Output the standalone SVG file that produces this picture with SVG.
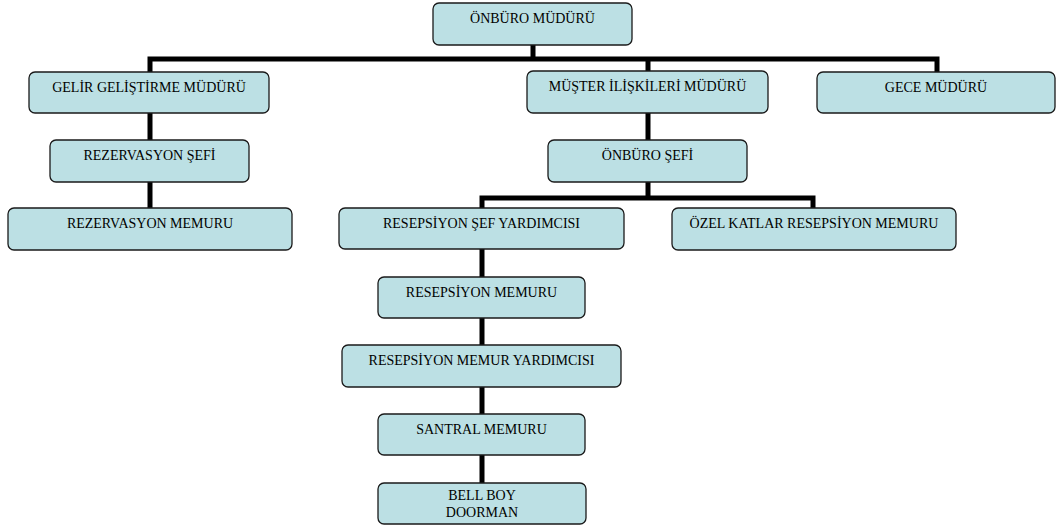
<svg xmlns="http://www.w3.org/2000/svg" width="1056" height="528" viewBox="0 0 1056 528">
<style>
.n rect{fill:#bce0e4;stroke:#1a1a1a;stroke-width:1.3}
.n text{font-size:14px;fill:#000;text-anchor:middle}
.c{stroke:#000;stroke-width:5;fill:none;stroke-linecap:butt}
</style>
<rect width="1056" height="528" fill="#fff"/>
<g id="connectors">
<path class="c" d="M533 45V59M147.5 59H939.5M150 59V72M648 59V71M937 59V72"/>
<path class="c" d="M150 113V140M150 182V208"/>
<path class="c" d="M648 113V140M648 182V198M479.5 198H815.5M482 198V208M813 198V208"/>
<path class="c" d="M482 249V277M482 318V345M482 387V414M482 455V483"/>
</g>
<g font-family="Liberation Serif, serif">
<g id="onburo-muduru" class="n"><rect x="433" y="3" width="199" height="42" rx="6"/><text x="532.5" y="23">ÖNBÜRO MÜDÜRÜ</text></g>
<g id="gelir-gelistirme" class="n"><rect x="29" y="72" width="240" height="41" rx="6"/><text x="149" y="92">GELİR GELİŞTİRME MÜDÜRÜ</text></g>
<g id="musteri-iliskileri" class="n"><rect x="527" y="71" width="241" height="42" rx="6"/><text x="647.5" y="91">MÜŞTER İLİŞKİLERİ MÜDÜRÜ</text></g>
<g id="gece-muduru" class="n"><rect x="817" y="72" width="238" height="41" rx="6"/><text x="936" y="92">GECE MÜDÜRÜ</text></g>
<g id="rezervasyon-sefi" class="n"><rect x="50" y="140" width="199" height="42" rx="6"/><text x="149.5" y="160">REZERVASYON ŞEFİ</text></g>
<g id="onburo-sefi" class="n"><rect x="548" y="140" width="199" height="42" rx="6"/><text x="647.5" y="160">ÖNBÜRO ŞEFİ</text></g>
<g id="rezervasyon-memuru" class="n"><rect x="8" y="208" width="284" height="42" rx="6"/><text x="150" y="228">REZERVASYON MEMURU</text></g>
<g id="resepsiyon-sef-yardimcisi" class="n"><rect x="339" y="208" width="285" height="41" rx="6"/><text x="481.5" y="228">RESEPSİYON ŞEF YARDIMCISI</text></g>
<g id="ozel-katlar" class="n"><rect x="672" y="208" width="284" height="42" rx="6"/><text x="814" y="228">ÖZEL KATLAR RESEPSİYON MEMURU</text></g>
<g id="resepsiyon-memuru" class="n"><rect x="378" y="277" width="207" height="41" rx="6"/><text x="481.5" y="297">RESEPSİYON MEMURU</text></g>
<g id="resepsiyon-memur-yardimcisi" class="n"><rect x="342" y="345" width="279" height="42" rx="6"/><text x="481.5" y="365">RESEPSİYON MEMUR YARDIMCISI</text></g>
<g id="santral-memuru" class="n"><rect x="378" y="414" width="207" height="41" rx="6"/><text x="481.5" y="434">SANTRAL MEMURU</text></g>
<g id="bell-boy-doorman" class="n"><rect x="378" y="483" width="208" height="41" rx="6"/><text x="482" y="500">BELL BOY</text><text x="482" y="517">DOORMAN</text></g>
</g>
</svg>
